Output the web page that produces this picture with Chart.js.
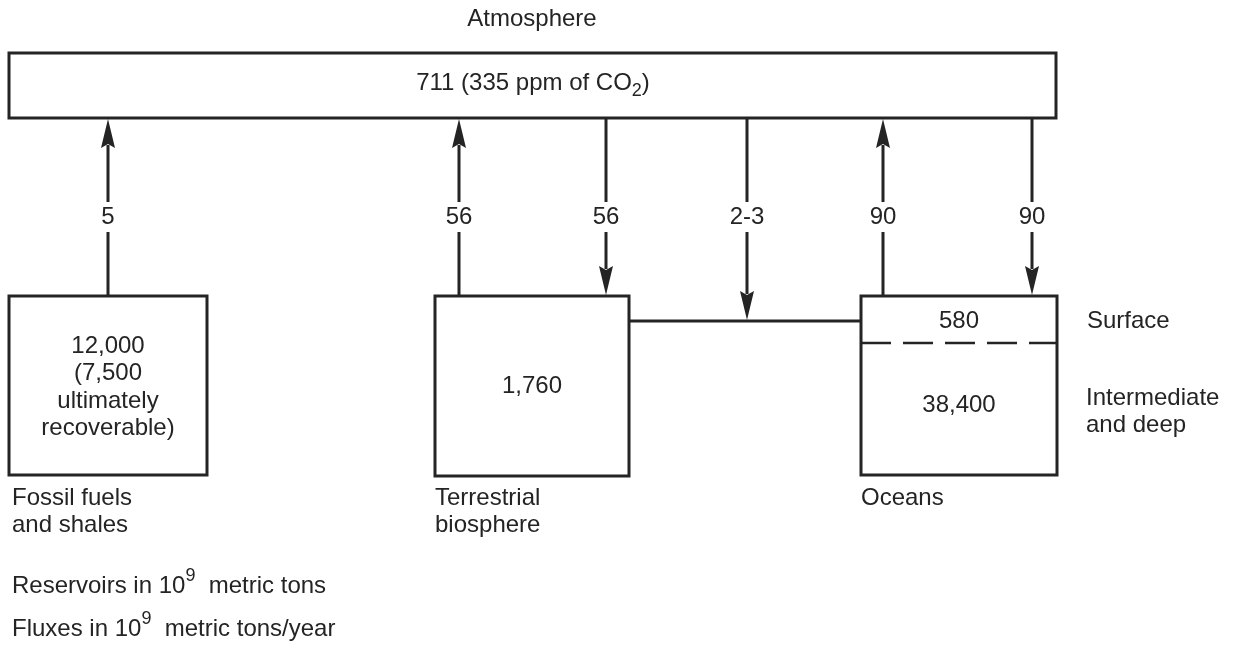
<!DOCTYPE html>
<html>
<head>
<meta charset="utf-8">
<script src="https://cdn.jsdelivr.net/npm/chart.js@4/dist/chart.umd.min.js"></script>
<style>
body{margin:0;background:#fff;}
#wrap{width:1239px;height:647px;}
</style>
</head>
<body>
<div id="wrap"><canvas id="myChart"></canvas></div>
<script>
// reservoirs, in 10^9 metric tons
const reservoirNames = ['Atmosphere', 'Fossil fuels\nand shales', 'Terrestrial\nbiosphere', 'Oceans'];
const atmosphereCarbon = 711;
const atmospherePpm = 335;
const fossilCarbon = 12000;
const fossilRecoverable = 7500;
const biosphereCarbon = 1760;
const oceanLayers = ['Surface', 'Intermediate\nand deep'];
const oceanCarbon = [580, 38400];
// fluxes, in 10^9 metric tons/year
const fluxLabels = ['5', '56', '56', '2-3', '90', '90'];
const fluxUp = [true, true, false, false, true, false];
const footnotes = ['Reservoirs in 10^9 metric tons', 'Fluxes in 10^9 metric tons/year'];

// layout (diagram units = pixels of the picture)
const boxes = {
  atm: [9, 53, 1056, 118],
  fossil: [9, 296, 207, 475],
  terr: [435, 296, 629, 476],
  ocean: [861, 296, 1057, 475]
};
const fluxX = [108, 459, 606, 747, 883, 1032];
const fluxEnd = [296, 296, 296, 321, 296, 296];
const atmBottom = 118;
const linkY = 321;
const layerY = 343;
const headLen = 29, headHalf = 7;
const ink = '#242424';
const FONT = '"Liberation Sans", Arial, sans-serif';
const fsize = 24;
const small = 18;

function fmt(n){ return n.toLocaleString('en-US'); }

function boxLine(b){
  return [{x:b[0],y:b[1]},{x:b[2],y:b[1]},{x:b[2],y:b[3]},{x:b[0],y:b[3]},{x:b[0],y:b[1]-1.5}];
}

let datasets = [];
for (const k in boxes) {
  datasets.push({data: boxLine(boxes[k]), borderColor: ink, borderWidth: 3, pointRadius: 0, showLine: true, tension: 0});
}
// arrow shafts
for (let i = 0; i < fluxLabels.length; i++) {
  let y0 = atmBottom, y1 = fluxEnd[i];
  if (fluxUp[i]) y0 = atmBottom + headLen - 2; else y1 = fluxEnd[i] - headLen + 2;
  datasets.push({data: [{x: fluxX[i], y: y0}, {x: fluxX[i], y: y1}], borderColor: ink, borderWidth: 3, pointRadius: 0, showLine: true});
}
// link between biosphere and ocean surface
datasets.push({data: [{x: boxes.terr[2], y: linkY}, {x: boxes.ocean[0], y: linkY}], borderColor: ink, borderWidth: 3, pointRadius: 0, showLine: true});
// surface / deep boundary
datasets.push({data: [{x: boxes.ocean[0], y: layerY}, {x: boxes.ocean[2], y: layerY}], borderColor: ink, borderWidth: 2.5, borderDash: [30, 12], pointRadius: 0, showLine: true});

// text with sub/superscripts: segments [text, shift]
function rich(ctx, segs, x, y, align){
  let w = 0;
  segs.forEach(s => { ctx.font = (s[1] ? small : fsize) + 'px ' + FONT; w += ctx.measureText(s[0]).width; });
  let cx = align === 'center' ? x - w / 2 : x;
  ctx.textAlign = 'left';
  segs.forEach(s => {
    ctx.font = (s[1] ? small : fsize) + 'px ' + FONT;
    ctx.fillText(s[0], cx, y + (s[1] || 0));
    cx += ctx.measureText(s[0]).width;
  });
}
function lines(ctx, txt, x, y, step, align){
  txt.split('\n').forEach((t, i) => rich(ctx, [[t]], x, y + i * step, align));
}
function power(txt){
  let p = txt.split('^');
  let rest = p[1].slice(1);
  return [[p[0]], [p[1][0], -10], [' ' + rest]];
}

const drawPlugin = {
  id: 'diagram',
  afterDatasetsDraw(chart){
    const ctx = chart.ctx, sx = chart.scales.x, sy = chart.scales.y;
    const X = v => sx.getPixelForValue(v), Y = v => sy.getPixelForValue(v);
    ctx.save();
    ctx.fillStyle = ink;
    // arrow heads
    for (let i = 0; i < fluxLabels.length; i++) {
      let tip = fluxUp[i] ? atmBottom + 1 : fluxEnd[i] - 1;
      let base = fluxUp[i] ? tip + headLen : tip - headLen;
      ctx.beginPath();
      ctx.moveTo(X(fluxX[i]), Y(tip));
      ctx.lineTo(X(fluxX[i] - headHalf), Y(base));
      ctx.lineTo(X(fluxX[i]), Y(base + (fluxUp[i] ? -4 : 4)));
      ctx.lineTo(X(fluxX[i] + headHalf), Y(base));
      ctx.closePath();
      ctx.fill();
    }
    ctx.textBaseline = 'middle';
    ctx.font = fsize + 'px ' + FONT;
    // flux labels over a gap in the shaft
    for (let i = 0; i < fluxLabels.length; i++) {
      let w = ctx.measureText(fluxLabels[i]).width;
      ctx.fillStyle = '#fff';
      ctx.fillRect(X(fluxX[i]) - w / 2 - 4, Y(202), w + 8, Y(232) - Y(202));
      ctx.fillStyle = ink;
      rich(ctx, [[fluxLabels[i]]], X(fluxX[i]), Y(217), 'center');
    }
    // atmosphere
    rich(ctx, [[reservoirNames[0]]], X(532), Y(19), 'center');
    rich(ctx, [[atmosphereCarbon + ' (' + atmospherePpm + ' ppm of CO'], ['2', 8], [')']], X(533), Y(83), 'center');
    // fossil
    const fb = boxes.fossil;
    lines(ctx, fmt(fossilCarbon) + '\n(' + fmt(fossilRecoverable) + '\nultimately\nrecoverable)', X((fb[0] + fb[2]) / 2), Y(346), 27.5, 'center');
    lines(ctx, reservoirNames[1], X(fb[0] + 3), Y(498), 27, 'left');
    // biosphere
    const tb = boxes.terr;
    rich(ctx, [[fmt(biosphereCarbon)]], X((tb[0] + tb[2]) / 2), Y(386), 'center');
    lines(ctx, reservoirNames[2], X(tb[0]), Y(498), 27, 'left');
    // oceans
    const ob = boxes.ocean;
    const oc = (ob[0] + ob[2]) / 2;
    rich(ctx, [[fmt(oceanCarbon[0])]], X(oc), Y(321), 'center');
    rich(ctx, [[fmt(oceanCarbon[1])]], X(oc), Y(405), 'center');
    lines(ctx, reservoirNames[3], X(ob[0]), Y(498), 27, 'left');
    lines(ctx, oceanLayers[0], X(1087), Y(321), 27, 'left');
    lines(ctx, oceanLayers[1], X(1086), Y(398), 27, 'left');
    // footnotes
    rich(ctx, power(footnotes[0]), X(12), Y(586), 'left');
    rich(ctx, power(footnotes[1]), X(12), Y(629), 'left');
    ctx.restore();
  }
};

new Chart(document.getElementById('myChart'), {
  type: 'scatter',
  data: {datasets: datasets},
  options: {
    responsive: true,
    maintainAspectRatio: false,
    animation: false,
    events: [],
    layout: {padding: 0},
    plugins: {legend: {display: false}, tooltip: {enabled: false}},
    scales: {
      x: {type: 'linear', min: 0, max: 1239, display: false},
      y: {type: 'linear', min: 0, max: 647, reverse: true, display: false}
    }
  },
  plugins: [drawPlugin]
});
</script>
</body>
</html>
